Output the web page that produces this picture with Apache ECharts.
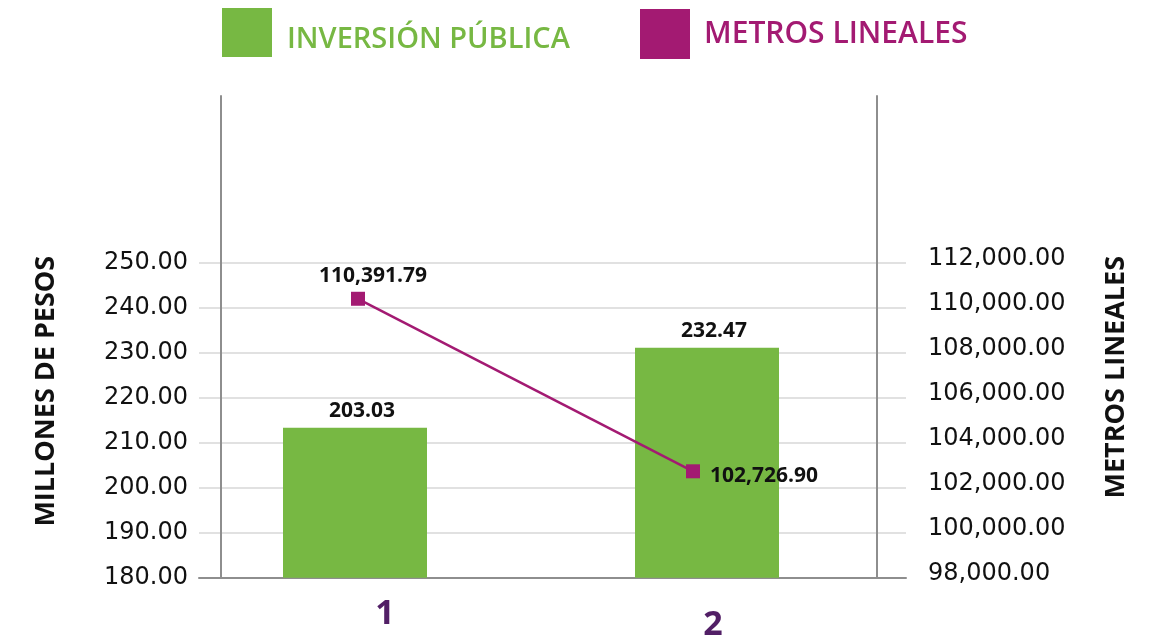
<!DOCTYPE html>
<html>
<head>
<meta charset="utf-8">
<script src="https://cdn.jsdelivr.net/npm/echarts@6/dist/echarts.min.js"></script>
<style>
  html, body { margin: 0; padding: 0; background: #fff; }
  #chart { width: 1155px; height: 639px; }
</style>
</head>
<body>
<div id="chart"></div>
<script>
// data
const categories = ['1', '2'];
const barName = 'INVERSIÓN PÚBLICA';
const lineName = 'METROS LINEALES';
const barValues = [213.3, 231.1];          // bar heights as drawn
const barLabels = ['203.03', '232.47'];     // values printed above the bars
const lineValues = [110391.79, 102726.90];

// axis ranges
const leftMin = 180;
const leftMax = 250;
const leftStep = 10;
const rightMin = 98000;
const rightMax = 112000;
const rightStep = 2000;
const leftFrameMax = 287;       // top of the frame lines
const rightFrameMax = 119400;

const GREEN = '#77b843';
const MAGENTA = '#a31a72';
const PURPLE = '#521f66';
const AXIS_GREY = '#8e8e8e';
const GRID_GREY = '#e1e1e1';
const TEXT = '#111111';

const fmt = (v) => Number(v).toLocaleString('en-US', {
  minimumFractionDigits: 2,
  maximumFractionDigits: 2,
});

const lineLabelStyles = [
  { position: 'top', distance: 5, offset: [15, 0] },
  { position: 'right', distance: 10, offset: [0, 5] },
];

const chart = echarts.init(document.getElementById('chart'));

const hiddenValue = (gridIndex, min, max) => ({
  type: 'value', gridIndex, min, max, show: false,
  splitLine: { show: false },
});

const option = {
  animation: false,
  backgroundColor: '#ffffff',
  textStyle: { fontFamily: 'Open Sans' },
  legend: [
    {
      left: 222, top: 8, padding: 0,
      itemWidth: 50, itemHeight: 49, icon: 'rect',
      selectedMode: false,
      data: [barName],
      formatter: (name) => `{t|${name}}`,
      textStyle: {
        color: GREEN, fontSize: 29, fontWeight: 600, fontFamily: 'Open Sans',
        rich: {
          t: {
            color: GREEN, fontSize: 29, fontWeight: 600, fontFamily: 'Open Sans',
            padding: [14, 0, 0, 10],
          },
        },
      },
    },
    {
      left: 640, top: 9, padding: 0,
      itemWidth: 50, itemHeight: 50, icon: 'rect',
      selectedMode: false,
      data: [lineName],
      formatter: (name) => `{t|${name}}`,
      textStyle: {
        color: MAGENTA, fontSize: 30, fontWeight: 600, fontFamily: 'Open Sans',
        rich: {
          t: {
            color: MAGENTA, fontSize: 30, fontWeight: 600, fontFamily: 'Open Sans',
            padding: [0, 0, 0, 9],
          },
        },
      },
    },
  ],
  grid: [
    // gridlines and tick labels
    { left: 199, right: 249, top: 262.7, bottom: 61.3, outerBoundsMode: 'none' },
    // frame lines and category labels
    { left: 221, right: 278, top: 96, bottom: 61.3, outerBoundsMode: 'none' },
    // bars
    { left: 179, right: 272, top: 96, bottom: 61.3, outerBoundsMode: 'none' },
    // line
    { left: 190.5, right: 294.5, top: 96, bottom: 61.3, outerBoundsMode: 'none' },
  ],
  xAxis: [
    {
      type: 'category', gridIndex: 0, data: categories,
      axisLine: { lineStyle: { color: AXIS_GREY, width: 2 } },
      axisTick: { show: false },
      axisLabel: { show: false },
    },
    {
      type: 'category', gridIndex: 1,
      data: categories.map((c, i) => ({
        value: c,
        textStyle: { padding: i === 1 ? [11, 0, 0, 0] : 0 },
      })),
      axisLine: { show: false },
      axisTick: { show: false },
      axisLabel: {
        margin: 20, fontSize: 34, fontWeight: 'bold', color: PURPLE,
        fontFamily: 'Open Sans',
      },
    },
    { type: 'category', gridIndex: 2, data: categories, show: false },
    { type: 'category', gridIndex: 3, data: categories, show: false },
  ],
  yAxis: [
    {
      type: 'value', gridIndex: 0, position: 'left',
      min: leftMin, max: leftMax, interval: leftStep,
      axisLine: { show: false },
      axisTick: { show: false },
      axisLabel: {
        margin: 11, fontSize: 24, color: TEXT, fontFamily: 'DejaVu Sans',
        formatter: (v) => fmt(v),
      },
      splitLine: { lineStyle: { color: GRID_GREY, width: 2 } },
      name: 'MILLONES DE PESOS',
      nameLocation: 'middle',
      nameRotate: 90,
      nameGap: 139,
      nameMoveOverlap: false,
      nameTextStyle: {
        fontSize: 27, fontWeight: 'bold', color: TEXT, fontFamily: 'Open Sans',
        padding: [0, 0, 0, 58],
      },
    },
    {
      type: 'value', gridIndex: 0, position: 'right',
      min: rightMin, max: rightMax, interval: rightStep,
      axisLine: { show: false },
      axisTick: { show: false },
      axisLabel: {
        margin: 22, fontSize: 24, color: TEXT, fontFamily: 'DejaVu Sans',
        formatter: (v) => `{r|${fmt(v)}}`,
        rich: {
          r: {
            fontSize: 24, color: TEXT, fontFamily: 'DejaVu Sans',
            padding: [0, 0, 7, 0],
          },
        },
      },
      splitLine: { show: false },
      name: 'METROS LINEALES',
      nameLocation: 'middle',
      nameRotate: 90,
      nameGap: 197,
      nameMoveOverlap: false,
      nameTextStyle: {
        fontSize: 27, fontWeight: 'bold', color: TEXT, fontFamily: 'Open Sans',
        padding: [0, 0, 0, 86],
      },
    },
    {
      type: 'value', gridIndex: 1, position: 'left', min: 0, max: 1,
      axisLine: { show: true, lineStyle: { color: AXIS_GREY, width: 2 } },
      axisTick: { show: false }, axisLabel: { show: false }, splitLine: { show: false },
    },
    {
      type: 'value', gridIndex: 1, position: 'right', min: 0, max: 1,
      axisLine: { show: true, lineStyle: { color: AXIS_GREY, width: 2 } },
      axisTick: { show: false }, axisLabel: { show: false }, splitLine: { show: false },
    },
    hiddenValue(2, leftMin, leftFrameMax),
    hiddenValue(3, rightMin, rightFrameMax),
  ],
  series: [
    {
      name: barName,
      type: 'bar',
      xAxisIndex: 2,
      yAxisIndex: 4,
      data: barValues,
      barWidth: 144,
      itemStyle: { color: GREEN },
      label: {
        show: true,
        position: 'top',
        distance: 6,
        offset: [7, 0],
        formatter: (p) => barLabels[p.dataIndex],
        fontSize: 21,
        fontWeight: 'bold',
        fontFamily: 'Open Sans',
        color: TEXT,
      },
    },
    {
      name: lineName,
      type: 'line',
      xAxisIndex: 3,
      yAxisIndex: 5,
      data: lineValues.map((v, i) => ({ value: v, label: lineLabelStyles[i] })),
      symbol: 'rect',
      symbolSize: 14,
      lineStyle: { color: MAGENTA, width: 2.5 },
      itemStyle: { color: MAGENTA },
      label: {
        show: true,
        formatter: (p) => fmt(p.value),
        fontSize: 21,
        fontWeight: 'bold',
        fontFamily: 'Open Sans',
        color: TEXT,
      },
    },
  ],
};

chart.setOption(option);
</script>
</body>
</html>
